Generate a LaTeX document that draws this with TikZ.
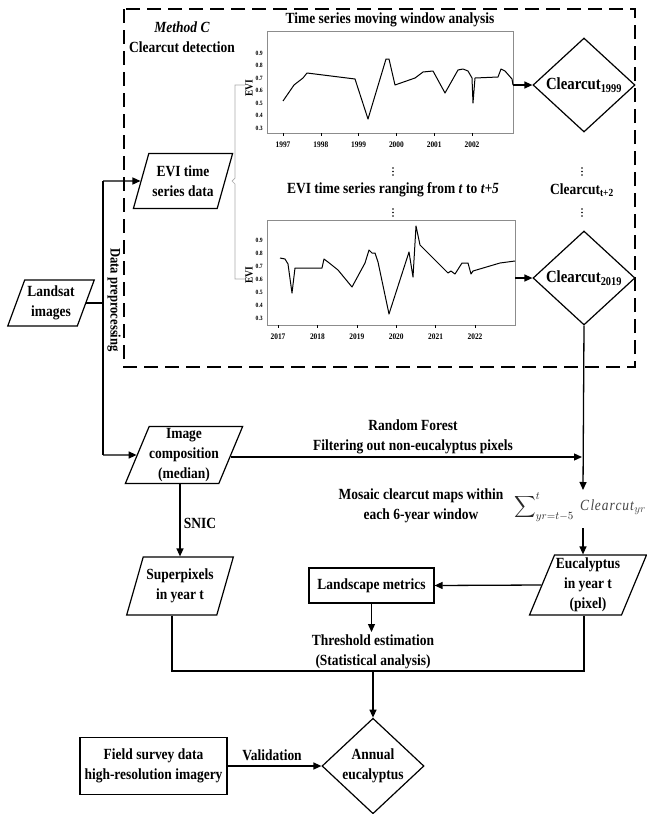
\documentclass[tikz,border=0pt]{standalone}
\usepackage{fontspec}
\setmainfont{Liberation Serif}[FakeStretch=0.87]
\usetikzlibrary{arrows.meta,shapes.geometric}
\definecolor{framegray}{RGB}{140,140,140}
\definecolor{bracegray}{RGB}{170,170,170}
\definecolor{sumgray}{RGB}{70,70,70}
\definecolor{sumdark}{RGB}{40,40,40}
\tikzset{
  txt/.style={font=\bfseries\fontsize{15.5}{20}\selectfont, align=center, inner sep=0pt},
  para/.style={draw, line width=1.2pt, trapezium, trapezium left angle=66, trapezium right angle=114,
    trapezium stretches=true, inner sep=0pt, txt},
  dia/.style={draw, line width=1.2pt, diamond, minimum width=102pt, minimum height=94pt, inner sep=0pt, txt},
  boxn/.style={draw, line width=1.2pt, rectangle, inner sep=0pt, txt},
  conn/.style={line width=1.3pt},
  arr/.style={line width=1.3pt, -{Triangle[length=8pt,width=7pt]}},
  curve/.style={line width=1pt, line join=round},
  ticklab/.style={font=\bfseries\fontsize{6.5}{7}\selectfont, inner sep=0pt, anchor=east},
  yearlab/.style={font=\bfseries\fontsize{8.5}{9}\selectfont, inner sep=0pt},
  evilab/.style={font=\bfseries\fontsize{11}{12}\selectfont, inner sep=0pt, rotate=90},
  vdot/.style={circle, fill=black, inner sep=0pt, minimum size=1.6pt},
}
\begin{document}
\begin{tikzpicture}[x=1pt,y=-1pt]
\useasboundingbox (0,0) rectangle (646,814);
\fill[white] (0,0) rectangle (646,814);

% dashed frame
\draw[line width=1.8pt, dash pattern=on 14pt off 7pt] (124,9) rectangle (635,367);
\node[txt, font=\bfseries\itshape\fontsize{15.5}{20}\selectfont] (methodc) at (182,27) {Method C};
\node[txt] (ccdet) at (182,47) {Clearcut detection};
\node[txt] (title) at (390,20) {Time series moving window analysis};

% ---------- top plot ----------
\draw[framegray, line width=0.8pt] (267,31) rectangle (513,133);
\foreach \v/\yy in {0.9/53,0.8/65.5,0.7/78,0.6/90.5,0.5/103,0.4/115.5,0.3/128}
  \node[ticklab] at (263,\yy) {\v};
\node[evilab] (evi1) at (249,88) {EVI};
\foreach \k/\yr in {0/1997,1/1998,2/1999,3/2000,4/2001,5/2002}{
  \draw[line width=0.5pt] ({283+37.8*\k},133) -- ({283+37.8*\k},136);
  \node[yearlab] at ({283+37.8*\k},145) {\yr};}
\draw[curve] (283,101) -- (294,85) -- (303,78) -- (307,73) -- (355,79) -- (368,119) -- (386,59) -- (389,59)
  -- (395,85) -- (415,78) -- (419,75) -- (423,72) -- (433,71) -- (445,93) -- (458,70) -- (463,69) -- (468,71)
  -- (472,78) -- (473,103) -- (475,78) -- (498,77) -- (501,69) -- (505,71) -- (512,79) -- (513,85);
\coordinate (p1end) at (513,85);

% ---------- bottom plot ----------
\draw[framegray, line width=0.8pt] (267,220) rectangle (515,325);
\foreach \v/\yy in {0.9/240,0.8/253,0.7/266,0.6/279,0.5/292,0.4/305,0.3/318}
  \node[ticklab] at (263,\yy) {\v};
\node[evilab] (evi2) at (249,275) {EVI};
\foreach \k/\yr in {0/2017,1/2018,2/2019,3/2020,4/2021,5/2022}{
  \draw[line width=0.5pt] ({278+39.4*\k},325) -- ({278+39.4*\k},328);
  \node[yearlab] at ({278+39.4*\k},337) {\yr};}
\draw[curve] (280,258) -- (285,259) -- (288,264) -- (292,293) -- (295,268) -- (322,268) -- (324,259) -- (328,262)
  -- (338,270) -- (352,287) -- (365,263) -- (369,250) -- (372,253) -- (375,253) -- (378,262) -- (389,314)
  -- (409,252) -- (413,277) -- (416,226) -- (420,245) -- (448,273) -- (451,271) -- (455,274) -- (462,263)
  -- (468,263) -- (471,274) -- (473,271) -- (500,263) -- (515,261);
\coordinate (p2end) at (515,278);

% dots and middle labels
\foreach \xx in {393,582}{
  \foreach \yy in {168,171.5,175, 209,212.5,216}
    \node[vdot] at (\xx,\yy) {};}
\node[txt] (range) at (393,190) {EVI time series ranging from \textit{t} to \textit{t+5}};
\node[txt] (cct) at (582,190) {Clearcut\textsubscript{t+2}};

% diamonds in frame
\node[dia, font=\bfseries\fontsize{17}{20}\selectfont] (d1) at (584,85) {Clearcut\textsubscript{1999}};
\node[dia, font=\bfseries\fontsize{17}{20}\selectfont] (d2) at (584,278) {Clearcut\textsubscript{2019}};
\draw[arr] (p1end) -- (d1.west);
\draw[arr] (p2end) -- (d2.west);

% EVI data & brace
\node[para, minimum width=100pt, minimum height=55pt] (evi) at (183,181) {EVI time\\series data};
\draw[bracegray, line width=0.7pt] (245,85) -- (235,85) -- (235,178) -- (232,181) -- (235,184) -- (235,279) -- (245,279);

% Landsat and left trunk
\node[para, minimum width=87pt, minimum height=46pt] (landsat) at (51,303) {Landsat\\images};
\coordinate (vtop) at (103,181);
\coordinate (vbot) at (103,455);
\draw[conn] (vtop) -- (vbot);
\draw[conn] (landsat.east) -- (landsat.east -| vtop);
\draw[arr] (vtop) -- (evi.west);
\node[txt, rotate=-90, font=\bfseries\fontsize{14.5}{16}\selectfont] (prep) at (114,300) {Data preprocessing};

% image composition
\node[para, minimum width=116pt, minimum height=57pt] (img) at (184,455) {Image\\composition\\(median)};
\draw[arr] (vbot) -- (img.west);
\coordinate (rfend) at (582,457);
\draw[arr] (img.east |- rfend) -- (rfend);
\node[txt] (rf) at (413,437) {Random Forest\\Filtering out non-eucalyptus pixels};

% right trunk
\coordinate (mostop) at (583,490);
\draw[arr] (d2.south) -- (mostop);
\node[txt] (mosaic) at (421,506) {Mosaic clearcut maps within\\each 6-year window};
\node[inner sep=0pt, anchor=west, font=\fontsize{15.5}{20}\selectfont] (sum) at (514,507)
  {$\color{sumdark}\mathop{\vcenter{\hbox{\scalebox{1.5}{$\displaystyle\sum$}}}}\nolimits_{yr=t-5}^{t}\;\color{sumgray}\mathit{Clearcut}_{yr}$};
\coordinate (sumbot) at (583,528);

% eucalyptus
\node[para, minimum width=117pt, minimum height=60pt] (euc) at (588,585) {Eucalyptus\\in year t\\(pixel)};
\draw[arr] (sumbot) -- (euc.north -| sumbot);

% superpixels
\node[para, minimum width=107pt, minimum height=58pt] (sp) at (180,586) {Superpixels\\in year t};
\draw[arr] (img.south -| sp.north) -- (sp.north);
\node[txt] (snic) at (200,523) {SNIC};

% landscape metrics
\node[boxn, minimum width=125pt, minimum height=35pt] (lm) at (371.5,585.5) {Landscape metrics};
\draw[arr] (euc.west) -- (lm.east);
\coordinate (thrtop) at (371.5,632);
\draw[arr] (lm.south) -- (thrtop);
\node[txt] (thr) at (373,652) {Threshold estimation\\(Statistical analysis)};

% bottom bracket
\coordinate (bl) at (172,671);
\coordinate (br) at (584,671);
\coordinate (bm) at (373,671);
\draw[conn] (bl |- sp.south) -- (bl) -- (br) -- (br |- euc.south);

% annual
\node[dia] (ann) at (373,766) {Annual\\eucalyptus};
\draw[arr] (bm) -- (ann.north);
\node[boxn, minimum width=147pt, minimum height=57pt] (field) at (153.5,766) {Field survey data\\high-resolution imagery};
\draw[arr] (field.east) -- (ann.west);
\node[txt] (valid) at (272,755) {Validation};
\end{tikzpicture}
\end{document}
